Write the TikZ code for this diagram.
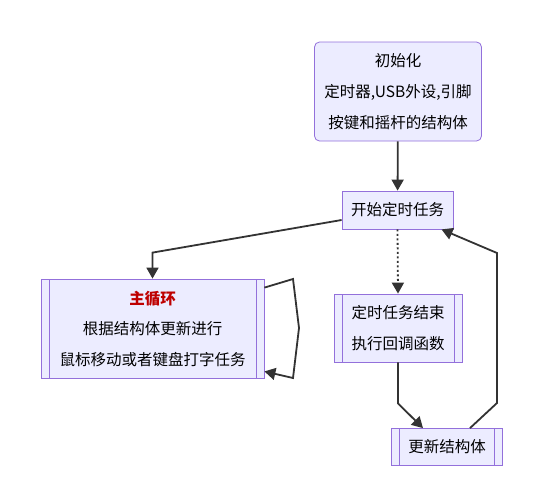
\documentclass[tikz,border=0pt]{standalone}
\usepackage{fontspec}
\setmainfont{Noto Sans CJK SC}
\usetikzlibrary{arrows.meta}
\definecolor{boxfill}{HTML}{ECECFF}
\definecolor{boxline}{HTML}{9370DB}
\definecolor{edgeline}{HTML}{333333}
\definecolor{titlered}{RGB}{190,0,0}
\begin{document}
\begin{tikzpicture}[x=1pt,y=-1pt,
  main node/.style={rectangle,draw=boxline,fill=boxfill,line width=0.8pt,align=center,inner sep=0pt,font=\fontsize{15.5}{31}\selectfont},
  sub node/.style={main node,path picture={
    \draw[boxline,line width=0.8pt] ([xshift=8pt]path picture bounding box.north west) -- ([xshift=8pt]path picture bounding box.south west);
    \draw[boxline,line width=0.8pt] ([xshift=-8pt]path picture bounding box.north east) -- ([xshift=-8pt]path picture bounding box.south east);}},
  arr/.style={draw=edgeline,line width=1.8pt,-{Triangle[length=11pt,width=12pt]}}]
\useasboundingbox (0,0) rectangle (543,488);
\begin{scope}
\node[main node,rounded corners=5pt,minimum width=167pt,minimum height=99pt] (init) at (398,91.5) {初始化\\定时器,USB外设,引脚\\按键和摇杆的结构体};
\node[main node,minimum width=111pt,minimum height=38pt] (start) at (397.5,210) {开始定时任务};
\node[sub node,minimum width=223pt,minimum height=99pt,font=\fontsize{15.5}{30.5}\selectfont] (loop) at (152.5,328.5) {\textcolor{titlered}{\bfseries 主循环}\\根据结构体更新进行\\鼠标移动或者键盘打字任务};
\node[sub node,minimum width=128pt,minimum height=68pt] (timer) at (398,328) {定时任务结束\\执行回调函数};
\node[sub node,minimum width=111pt,minimum height=37pt] (update) at (447,447) {更新结构体};
\end{scope}
\begin{scope}
\draw[arr] (init) -- (start);
\draw[arr] ([yshift=-10pt]start.west) -- ([yshift=26pt]loop.north) -- (loop.north);
\draw[arr,dash pattern=on 2pt off 2.5pt] (start.south) -- (timer.north);
\draw[arr] (timer.south) -- ++(0,41) -- ([xshift=-24pt]update.north);
\draw[arr] ([xshift=23pt]update.north) -- (497,403) -- (497,253) -- ([xshift=44pt]start.south);
\draw[arr] ([yshift=-9pt]loop.north east) -- (293,279) -- (299,328) -- (293,378) -- ([yshift=7pt]loop.south east);
\end{scope}
\end{tikzpicture}
\end{document}
